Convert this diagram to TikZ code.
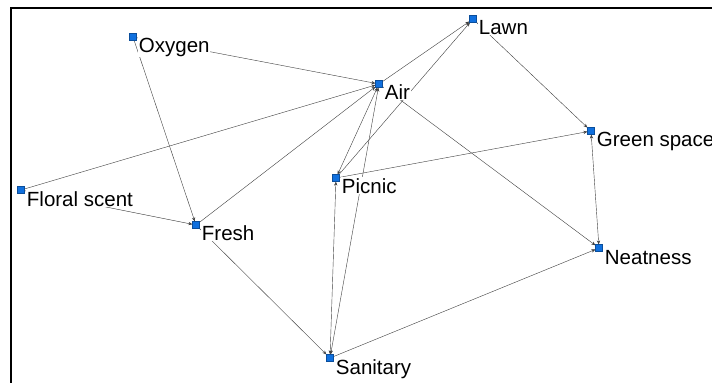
\documentclass[tikz,border=0pt]{standalone}
\usepackage{fontspec}
\setmainfont{Liberation Sans}
\usetikzlibrary{arrows.meta,backgrounds}
\definecolor{nodeblue}{RGB}{16,112,222}

\begin{document}
\begin{tikzpicture}[x=0.3mm,y=-0.3mm,
	>={Stealth[length=3.4pt,width=2.8pt]},
	pt/.style={fill=nodeblue,draw=nodeblue!70!black,line width=0.2pt,minimum size=2.1mm,inner sep=0pt},
	lbl/.style={anchor=base west,fill=white,inner sep=0.6pt,font=\fontsize{17.5}{20}\selectfont},
	link/.style={->,black!75,line width=0.35pt},
	bilink/.style={<->,black!75,line width=0.35pt}]
	\useasboundingbox (0,0) rectangle (712,383);
	\draw[line width=0.6mm] (11,383) -- (11,8) -- (712,8);

	% concepts
	\node[pt] (oxygen) at (133,37) {};
	\node[pt] (lawn) at (473,19) {};
	\node[pt] (air) at (379,84) {};
	\node[pt] (green) at (591,131) {};
	\node[pt] (floral) at (21,190) {};
	\node[pt] (picnic) at (336,178) {};
	\node[pt] (fresh) at (196,225) {};
	\node[pt] (neat) at (599,248) {};
	\node[pt] (sanitary) at (330,358) {};

	\node[lbl] (oxygen-l) at (138,52) {Oxygen};
	\node[lbl] (lawn-l) at (478,34) {Lawn};
	\node[lbl] (air-l) at (384,99) {Air};
	\node[lbl] (green-l) at (596,146) {Green space};
	\node[lbl] (floral-l) at (26,206) {Floral scent};
	\node[lbl] (picnic-l) at (341,193) {Picnic};
	\node[lbl] (fresh-l) at (201,240) {Fresh};
	\node[lbl] (neat-l) at (604,264) {Neatness};
	\node[lbl] (sanitary-l) at (335,374) {Sanitary};

	% links
	\begin{scope}[on background layer]
		\draw[link] (oxygen) -- (air);
		\draw[link] (oxygen) -- (fresh);
		\draw[link] (floral) -- (air);
		\draw[link] (floral) -- (fresh);
		\draw[link] (fresh) -- (air);
		\draw[link] (fresh) -- (sanitary);
		\draw[link] (air) -- (lawn);
		\draw[link] (picnic) -- (lawn);
		\draw[bilink] (air) -- (picnic);
		\draw[bilink] (air) -- (sanitary);
		\draw[bilink] (picnic) -- (sanitary);
		\draw[link] (air) -- (neat);
		\draw[link] (lawn) -- (green);
		\draw[link] (picnic) -- (green);
		\draw[bilink] (green) -- (neat);
		\draw[link] (sanitary) -- (neat);
	\end{scope}
\end{tikzpicture}
\end{document}
